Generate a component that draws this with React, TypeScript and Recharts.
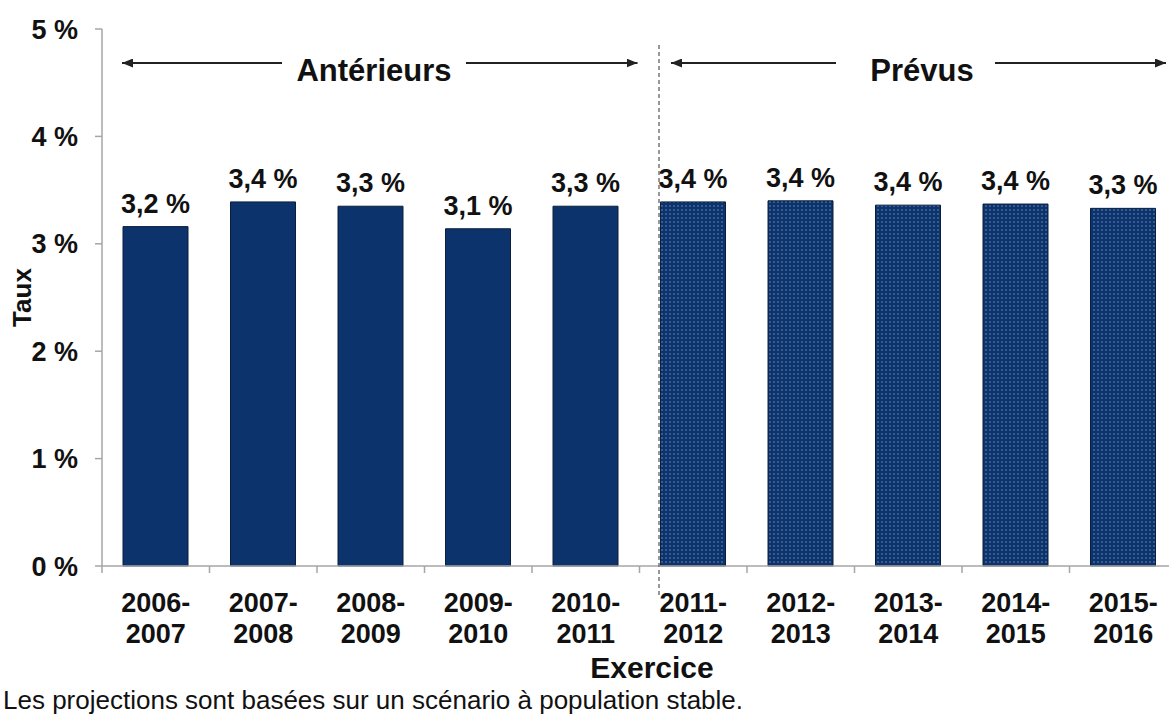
import React from "react";
import { BarChart, Bar, XAxis, YAxis, Cell, LabelList } from "recharts";

// taux par exercice
const categories = [
  "2006-2007",
  "2007-2008",
  "2008-2009",
  "2009-2010",
  "2010-2011",
  "2011-2012",
  "2012-2013",
  "2013-2014",
  "2014-2015",
  "2015-2016",
];
const rates = [3.16, 3.39, 3.35, 3.14, 3.35, 3.39, 3.4, 3.36, 3.37, 3.33];
const rateLabels = ["3,2 %", "3,4 %", "3,3 %", "3,1 %", "3,3 %", "3,4 %", "3,4 %", "3,4 %", "3,4 %", "3,3 %"];
const isForecast = [false, false, false, false, false, true, true, true, true, true];
const yTicks = [0, 1, 2, 3, 4, 5];

const data = categories.map((name, i) => ({
  name,
  value: rates[i],
  label: rateLabels[i],
  forecast: isForecast[i],
}));

const CHART_W = 1190;
const CHART_H = 715;
const TOP = 29;
const Y_AXIS_W = 102;
const RIGHT = 13;
const X_AXIS_H = 149;
const PLOT_LEFT = Y_AXIS_W;
const PLOT_BOTTOM = CHART_H - X_AXIS_H;
const BAND = (CHART_W - Y_AXIS_W - RIGHT) / categories.length;

const NAVY = "#0c336b";
const AXIS_GREY = "#a6a6a6";
const TEXT = "#111";
const FONT = "'Liberation Sans', Arial, sans-serif";

function CategoryTick(props: any) {
  const { x, payload, index } = props;
  const [first, second] = String(payload.value).split("-");
  const left = x - BAND / 2;
  const right = x + BAND / 2;
  return (
    <g>
      <line x1={left} x2={left} y1={PLOT_BOTTOM} y2={PLOT_BOTTOM + 7} stroke={AXIS_GREY} strokeWidth={1.5} />
      {index === categories.length - 1 && (
        <line x1={right} x2={right} y1={PLOT_BOTTOM} y2={PLOT_BOTTOM + 7} stroke={AXIS_GREY} strokeWidth={1.5} />
      )}
      <text x={x} y={PLOT_BOTTOM + 46} textAnchor="middle" fontSize={27} fontWeight="bold" fill={TEXT} fontFamily={FONT}>
        {first}-
      </text>
      <text x={x} y={PLOT_BOTTOM + 77} textAnchor="middle" fontSize={27} fontWeight="bold" fill={TEXT} fontFamily={FONT}>
        {second}
      </text>
    </g>
  );
}

function Annotations() {
  const splitX = PLOT_LEFT + 5 * BAND + 19.5;
  const arrowY = 63;
  const lineProps = {
    stroke: "#222",
    strokeWidth: 2,
    markerEnd: "url(#arrowHead)",
  };
  const headText = {
    fontSize: 31,
    fontWeight: "bold" as const,
    fill: TEXT,
    fontFamily: FONT,
    textAnchor: "middle" as const,
  };
  return (
    <svg
      width={CHART_W}
      height={CHART_H}
      style={{ position: "absolute", left: 0, top: 0, pointerEvents: "none" }}
    >
      <defs>
        <marker
          id="arrowHead"
          markerUnits="userSpaceOnUse"
          markerWidth={11}
          markerHeight={9}
          refX={11}
          refY={4.5}
          orient="auto"
        >
          <path d="M0,0 L11,4.5 L0,9 z" fill="#222" />
        </marker>
      </defs>

      {/* séparation antérieurs / prévus */}
      <line
        x1={splitX}
        x2={splitX}
        y1={45}
        y2={598}
        stroke="#777"
        strokeWidth={1.5}
        strokeDasharray="4 3"
      />

      <line x1={282} y1={arrowY} x2={PLOT_LEFT + 20} y2={arrowY} {...lineProps} />
      <text x={374} y={81} {...headText}>Antérieurs</text>
      <line x1={466} y1={arrowY} x2={PLOT_LEFT + 5 * BAND - 2} y2={arrowY} {...lineProps} />

      <line x1={836} y1={arrowY} x2={splitX + 12} y2={arrowY} {...lineProps} />
      <text x={922} y={81} {...headText}>Prévus</text>
      <line x1={995} y1={arrowY} x2={1166} y2={arrowY} {...lineProps} />

      <text
        transform={`translate(22, ${(TOP + PLOT_BOTTOM) / 2}) rotate(-90)`}
        textAnchor="middle"
        dominantBaseline="central"
        fontSize={26}
        fontWeight="bold"
        fill={TEXT}
        fontFamily={FONT}
      >
        Taux
      </text>

      <text x={652} y={678} textAnchor="middle" fontSize={30} fontWeight="bold" fill={TEXT} fontFamily={FONT}>
        Exercice
      </text>
      <text x={3} y={709} fontSize={26} fill={TEXT} fontFamily={FONT}>
        Les projections sont basées sur un scénario à population stable.
      </text>
    </svg>
  );
}

export default function App() {
  return (
    <div
      style={{
        position: "absolute",
        left: 0,
        top: 0,
        width: 1169,
        height: 715,
        overflow: "hidden",
        background: "#fff",
      }}
    >
      <svg width={0} height={0} style={{ position: "absolute" }}>
        <defs>
          <pattern id="dots" width={4} height={4} patternUnits="userSpaceOnUse">
            <rect width={4} height={4} fill={NAVY} />
            <circle cx={2} cy={2} r={0.75} fill="#7896c8" />
          </pattern>
        </defs>
      </svg>

      <BarChart
        width={CHART_W}
        height={CHART_H}
        data={data}
        margin={{ top: TOP, right: RIGHT, bottom: 0, left: 0 }}
        barSize={65}
      >
        <XAxis
          dataKey="name"
          height={X_AXIS_H}
          interval={0}
          axisLine={{ stroke: AXIS_GREY, strokeWidth: 1.5 }}
          tickLine={false}
          tick={<CategoryTick />}
        />
        <YAxis
          width={Y_AXIS_W}
          domain={[0, 5]}
          ticks={yTicks}
          tickFormatter={(v: number) => `${v} %`}
          axisLine={{ stroke: AXIS_GREY, strokeWidth: 1.5 }}
          tickLine={{ stroke: AXIS_GREY, strokeWidth: 1.5 }}
          tickSize={7}
          tickMargin={17}
          tick={{ fontSize: 27, fontWeight: "bold", fill: TEXT, fontFamily: FONT }}
        />
        <Bar dataKey="value" isAnimationActive={false} stroke="#0a1f3d" strokeWidth={1}>
          {data.map((d, i) => (
            <Cell key={`cell-${i}`} fill={d.forecast ? "url(#dots)" : NAVY} />
          ))}
          <LabelList
            dataKey="label"
            position="top"
            offset={14}
            style={{ fontSize: 27, fontWeight: "bold", fill: TEXT, fontFamily: FONT }}
          />
        </Bar>
      </BarChart>

      <Annotations />
    </div>
  );
}
